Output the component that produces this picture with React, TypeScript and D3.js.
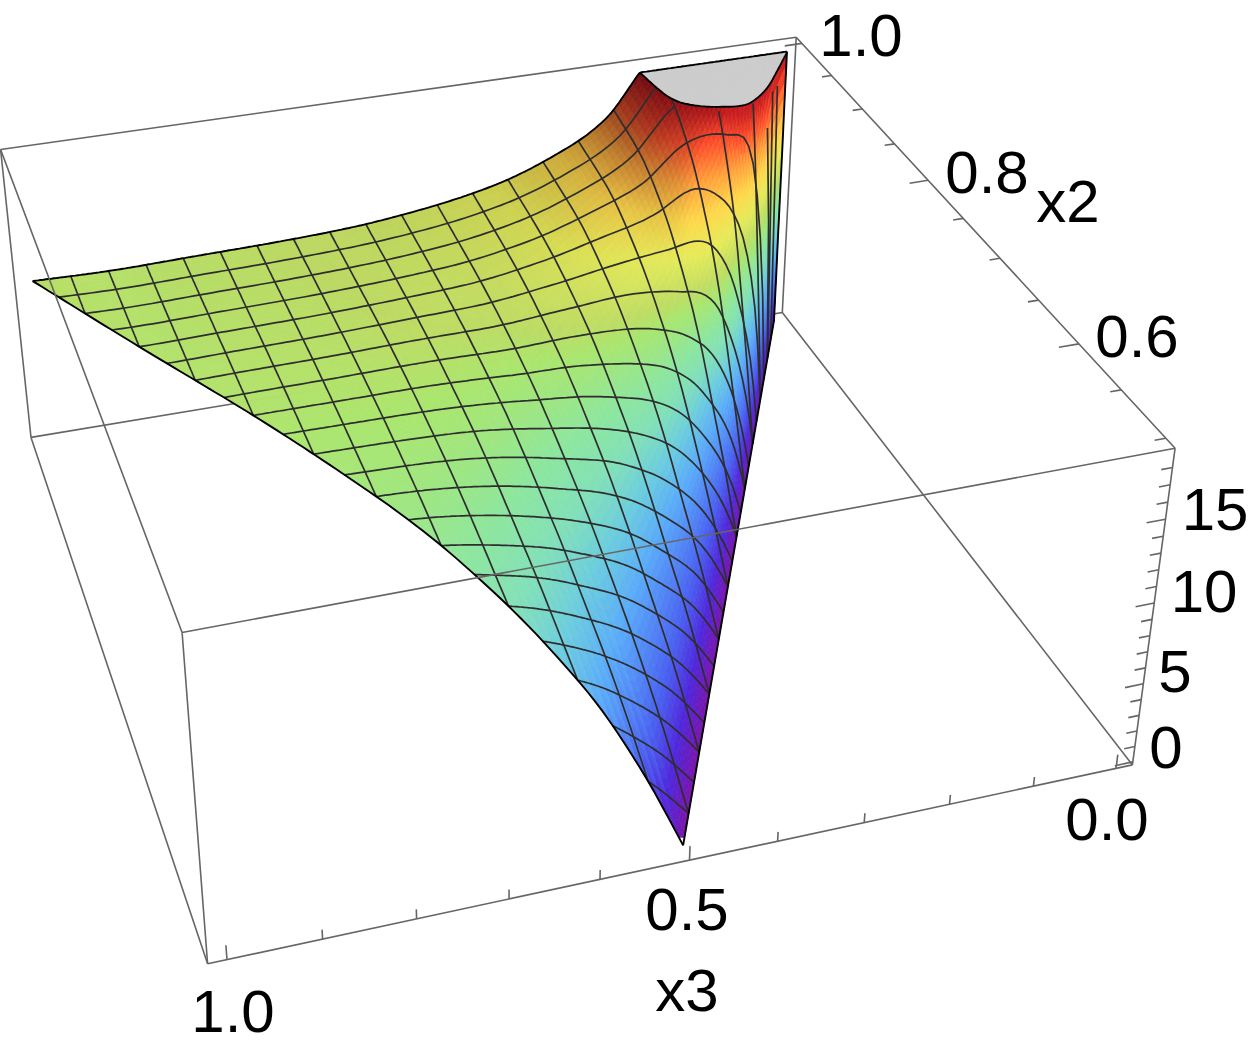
import React, { useMemo } from "react";
import * as d3 from "d3";

// ---------- data ----------
const x3Nodes = [0.02, 0.05, 0.09, 0.14, 0.2, 0.25, 0.3, 0.4, 0.5, 0.6, 0.7, 0.8, 0.9, 1];
// position between the x2+x3=1 edge (0) and the x2=1 edge (1), along a line of constant x3
const rNodes = [0, 0.1, 0.2, 0.3, 0.4, 0.6, 0.8, 1];
const zRows = [
  [0, 7.6, 14.4, 20.9, 25.8, 33, 36.9, 38],
  [0, 7.4, 14.1, 20.4, 25.2, 32.2, 35.9, 37],
  [0, 6.1, 11.6, 16.7, 20.7, 26.4, 29.5, 30.4],
  [0, 4.5, 8.5, 12.3, 15.2, 19.4, 21.6, 22.3],
  [0, 3.8, 7.2, 10.4, 12.9, 16.4, 18.3, 18.9],
  [0, 3.2, 6, 8.7, 10.8, 13.8, 15.4, 15.9],
  [0, 2.9, 5.5, 7.9, 9.8, 12.5, 14, 14.4],
  [0, 2.7, 4.8, 6.9, 8.6, 11, 12.2, 12.6],
  [0, 2.8, 5, 6.7, 8.2, 10.3, 11.3, 11.7],
  [0, 3, 5.4, 7, 8.3, 10.2, 11, 11.2],
  [0, 3, 5.3, 7.2, 8.5, 10.1, 10.8, 11],
  [0, 2.9, 5.2, 7.1, 8.4, 10, 10.7, 10.9],
  [0, 2.9, 5.2, 7, 8.3, 9.9, 10.6, 10.8],
  [0, 2.9, 5.2, 7.1, 8.4, 10, 10.7, 10.9],
];
const colorZ = [0, 1.5, 3, 5.3, 6.8, 8, 9, 10.5, 11, 12.5, 14, 15.5, 17, 18.7];
const colorHex = ["#7d14aa", "#5028dc", "#4a62f0", "#5aaafa", "#6ccdde", "#82e0b8", "#8ce6a0", "#aae66e", "#bedc64", "#e6eb5a", "#ffd74b", "#ffa03c", "#ff502d", "#be141e"];
const x3Ticks = [0, 0.1, 0.2, 0.3, 0.4, 0.5, 0.6, 0.7, 0.8, 0.9, 1];
const x3Major = [0, 0.5, 1];
const x2Ticks = [0.5, 0.55, 0.6, 0.65, 0.7, 0.75, 0.8, 0.85, 0.9, 0.95, 1];
const x2Major = [0.6, 0.8, 1];
const zTicks = d3.range(0, 19);
const zMajor = [0, 5, 10, 15];
const X3_MIN = -0.02, X3_MAX = 1.02, X2_MIN = 0.49, X2_MAX = 1.01, Z_MIN = -0.2, Z_MAX = 19.1, Z_CLIP = 18.7;
const MESH = 21;

// camera calibration: data coordinates -> picture
const calib: number[][] = [
  [X3_MAX, X2_MAX, Z_MIN, 32, 437], [X3_MAX, X2_MAX, Z_MAX, 0, 150],
  [X3_MIN, X2_MAX, Z_MIN, 782, 313], [X3_MIN, X2_MAX, Z_MAX, 797, 37],
  [X3_MIN, X2_MIN, Z_MIN, 1132, 765], [X3_MIN, X2_MIN, Z_MAX, 1175, 449],
  [X3_MAX, X2_MIN, Z_MIN, 206, 964], [X3_MAX, X2_MIN, Z_MAX, 183, 632],
  [1, X2_MIN, Z_MIN, 227, 960], [0.5, X2_MIN, Z_MIN, 690, 860], [0, X2_MIN, Z_MIN, 1117, 769],
  [X3_MIN, 0.8, Z_MAX, 930, 182], [X3_MIN, 1, Z_MAX, 800, 42],
  [X3_MIN, X2_MIN, 15, 1165, 519], [X3_MIN, X2_MIN, 10, 1154, 602], [X3_MIN, X2_MIN, 5, 1143, 683],
];

const sx = d3.scaleLinear().domain([X3_MIN, X3_MAX]).range([0, 1]);
const sy = d3.scaleLinear().domain([X2_MIN, X2_MAX]).range([0, 1]);
const sz = d3.scaleLinear().domain([Z_MIN, Z_MAX]).range([0, 1]);
const colorOf = d3.scaleLinear<string>().domain(colorZ).range(colorHex).interpolate(d3.interpolateRgb).clamp(true);

function solveHomography(): number[] {
  const n = 11;
  const A = d3.range(n).map(() => new Array(n + 1).fill(0));
  const add = (row: number[], b: number) => {
    for (let i = 0; i < n; i++) {
      for (let j = 0; j < n; j++) A[i][j] += row[i] * row[j];
      A[i][n] += row[i] * b;
    }
  };
  calib.forEach(([a, b, c, px, py]) => {
    const u = sx(a), v = sy(b), w = sz(c);
    add([1, u, v, w, 0, 0, 0, 0, -px * u, -px * v, -px * w], px);
    add([0, 0, 0, 0, 1, u, v, w, -py * u, -py * v, -py * w], py);
  });
  for (let i = 0; i < n; i++) {
    let p = i;
    for (let k = i + 1; k < n; k++) if (Math.abs(A[k][i]) > Math.abs(A[p][i])) p = k;
    [A[i], A[p]] = [A[p], A[i]];
    for (let k = 0; k < n; k++) {
      if (k === i) continue;
      const f = A[k][i] / A[i][i];
      for (let j = i; j <= n; j++) A[k][j] -= f * A[i][j];
    }
  }
  return A.map((r, i) => r[n] / r[i]);
}
const H = solveHomography();
function project(a: number, b: number, c: number): [number, number, number] {
  const u = sx(a), v = sy(b), w = sz(c);
  const W = 1 + H[8] * u + H[9] * v + H[10] * w;
  return [(H[0] + H[1] * u + H[2] * v + H[3] * w) / W, (H[4] + H[5] * u + H[6] * v + H[7] * w) / W, W];
}

function mono(xs: number[], ys: number[], x: number): number {
  const n = xs.length;
  if (x <= xs[0]) return ys[0];
  if (x >= xs[n - 1]) return ys[n - 1];
  let i = 0;
  while (x > xs[i + 1]) i++;
  const sec = (k: number) => (ys[k + 1] - ys[k]) / (xs[k + 1] - xs[k]);
  const tan = (k: number) => {
    if (k === 0) return sec(0);
    if (k === n - 1) return sec(n - 2);
    const a = sec(k - 1), b = sec(k);
    return a * b <= 0 ? 0 : (2 * a * b) / (a + b);
  };
  const h = xs[i + 1] - xs[i], t = (x - xs[i]) / h;
  const t2 = t * t, t3 = t2 * t;
  return (2 * t3 - 3 * t2 + 1) * ys[i] + (t3 - 2 * t2 + t) * h * tan(i) + (-2 * t3 + 3 * t2) * ys[i + 1] + (t3 - t2) * h * tan(i + 1);
}
const columns = rNodes.map((_, j) => zRows.map((row) => row[j]));
function zAt(x3: number, x2: number): number {
  const x = Math.max(x3, 1e-4);
  const r = Math.min(1, Math.max(0, (x2 + x - 1) / x));
  return mono(rNodes, columns.map((c) => mono(x3Nodes, c, x)), r);
}

type V = { a: number; b: number; z: number };
function clipPoly(p: V[]) {
  const below: V[] = [], above: V[] = [], cross: V[] = [];
  p.forEach((s, i) => {
    const e = p[(i + 1) % p.length];
    if (s.z <= Z_CLIP) below.push(s); else above.push({ ...s, z: Z_CLIP });
    if ((s.z <= Z_CLIP) !== (e.z <= Z_CLIP)) {
      const t = (Z_CLIP - s.z) / (e.z - s.z);
      const c = { a: s.a + (e.a - s.a) * t, b: s.b + (e.b - s.b) * t, z: Z_CLIP };
      below.push(c); above.push(c); cross.push(c);
    }
  });
  return { below, above, cross };
}
const line2 = d3.line<number[]>().x((d) => d[0]).y((d) => d[1]);
const f1 = (n: number) => Math.round(n * 10) / 10;

function buildSurface() {
  const NI = 140, NJ = 60;
  const grid: V[][] = [];
  for (let i = 0; i <= NI; i++) {
    const a = 0.002 + 0.998 * Math.pow(i / NI, 1.6);
    const rmin = Math.max(0, (2 * a - 1) / a);
    const row: V[] = [];
    for (let j = 0; j <= NJ; j++) {
      const r = rmin + (1 - rmin) * Math.pow(j / NJ, 1.5);
      const b = 1 - a + r * a;
      row.push({ a, b, z: zAt(a, b) });
    }
    grid.push(row);
  }
  const polys: { d: string; fill: string; depth: number }[] = [];
  const clipSeg: string[] = [];
  const pathOf = (p: V[]) => line2(p.map((v) => project(v.a, v.b, v.z).map(f1))) + "Z";
  for (let i = 0; i < NI; i++) {
    for (let j = 0; j < NJ; j++) {
      const q = [grid[i][j], grid[i + 1][j], grid[i + 1][j + 1], grid[i][j + 1]];
      const ca = d3.mean(q, (v) => v.a)!, cb = d3.mean(q, (v) => v.b)!;
      const depth = project(ca, cb, Math.min(Z_CLIP, d3.mean(q, (v) => v.z)!))[2];
      const { below, above, cross } = clipPoly(q);
      if (below.length > 2) {
        const cz = d3.mean(below, (v) => v.z)!;
        const de = 0.03;
        const slope = -(zAt(ca + de, cb) - zAt(ca - de, cb)) / (2 * de);
        const weight = Math.min(1, Math.max(0.15, (cb - 0.84) / 0.16));
        const shade = 1 / (1 + Math.max(0, slope) * 0.012 * weight);
        const c = d3.rgb(colorOf(cz));
        polys.push({ d: pathOf(below), fill: d3.rgb(c.r * shade, c.g * shade, c.b * shade).formatHex(), depth });
      }
      if (above.length > 2) polys.push({ d: pathOf(above), fill: "#cccccc", depth });
      if (cross.length === 2) clipSeg.push(line2(cross.map((v) => project(v.a, v.b, v.z).map(f1)))!);
    }
  }
  polys.sort((p, q) => q.depth - p.depth);

  const curve = (pts: number[][]) => {
    const segs: string[] = [];
    let cur: number[][] = [];
    pts.forEach(([a, b]) => {
      const z = zAt(a, b);
      if (z > Z_CLIP) {
        if (cur.length > 1) segs.push(line2(cur)!);
        cur = [];
      } else cur.push(project(a, b, z).slice(0, 2).map(f1));
    });
    if (cur.length > 1) segs.push(line2(cur)!);
    return segs.join("");
  };
  const clamped = (pts: number[][]) => line2(pts.map(([a, b]) => project(a, b, Math.min(Z_CLIP, zAt(a, b))).slice(0, 2).map(f1)))!;

  const mesh: string[] = [];
  d3.range(1, MESH).forEach((k) => {
    const a = k / MESH;
    const lo = Math.max(a, 1 - a);
    mesh.push(curve(d3.range(0, 71).map((t) => [a, lo + ((1 - lo) * t) / 70])));
    const b = 0.5 + k / (2 * MESH);
    mesh.push(curve(d3.range(0, 121).map((t) => [1 - b + ((b - (1 - b)) * t) / 120, b])));
  });
  const edges = [
    clamped(d3.range(0, 301).map((t) => [0.001 + (0.999 * t) / 300, 1])),
    clamped(d3.range(0, 101).map((t) => [0.5 + (0.5 * t) / 100, 0.5 + (0.5 * t) / 100])),
    clamped(d3.range(0, 2).map((t) => [0.5 - (0.499 * t), 0.5 + 0.499 * t])),
    clamped(d3.range(0, 41).map((t) => [0.0015, 0.9985 + (0.0015 * t) / 40])),
  ];
  return { polys, mesh, edges, clipSeg };
}

const GRID = "#666666";
const seg = (p: number[], q: number[]) => {
  const A = project(p[0], p[1], p[2]), B = project(q[0], q[1], q[2]);
  return `M${f1(A[0])},${f1(A[1])}L${f1(B[0])},${f1(B[1])}`;
};

const labels: [string, number, number][] = [
  ["1.0", 861, 56], ["0.8", 987, 193], ["x2", 1068, 222], ["0.6", 1137, 357],
  ["15", 1215, 530], ["10", 1204, 612], ["5", 1175, 692], ["0", 1166, 768],
  ["0.0", 1107, 840], ["0.5", 687, 930], ["x3", 687, 1011], ["1.0", 233, 1032],
];

export default function App() {
  const s = useMemo(buildSurface, []);
  const L = X3_MAX, R = X3_MIN, F = X2_MIN, K = X2_MAX, D = Z_MIN, T = Z_MAX;
  const backEdges = [
    seg([L, K, D], [R, K, D]), seg([R, K, D], [R, F, D]), seg([R, F, D], [L, F, D]), seg([L, F, D], [L, K, D]),
    seg([L, K, D], [L, K, T]), seg([R, K, D], [R, K, T]), seg([L, K, T], [R, K, T]),
  ].join("");
  const frontEdges = [
    seg([R, K, T], [R, F, T]), seg([R, F, T], [L, F, T]), seg([L, F, T], [L, K, T]),
    seg([R, F, D], [R, F, T]), seg([L, F, D], [L, F, T]),
  ].join("");
  const ticks = [
    ...x3Ticks.map((t) => seg([t, F, D], [t, F, D + (x3Major.includes(t) ? 0.9 : 0.6)])),
    ...x2Ticks.map((t) => seg([R, t, T], [R + (x2Major.includes(t) ? 0.024 : 0.013), t, T])),
    ...zTicks.map((t) => seg([R, F, t], [R + (zMajor.includes(t) ? 0.022 : 0.013), F, t])),
  ].join("");
  return (
    <svg width={1250} height={1047} style={{ position: "absolute", left: 0, top: 0, display: "block", background: "#fff" }}>
      <path d={backEdges} fill="none" stroke={GRID} strokeWidth={1.6} />
      <g strokeWidth={0.7} strokeLinejoin="round">
        {s.polys.map((p, i) => (
          <path key={i} d={p.d} fill={p.fill} stroke={p.fill} />
        ))}
      </g>
      <g fill="none" stroke="#2e2e2e" strokeWidth={1.7} strokeLinejoin="round">
        {s.mesh.map((d, i) => (
          <path key={i} d={d} />
        ))}
      </g>
      <g fill="none" stroke="#000" strokeWidth={1.9} strokeLinejoin="round">
        {s.edges.map((d, i) => (
          <path key={i} d={d} />
        ))}
        <path d={s.clipSeg.join("")} />
      </g>
      <path d={frontEdges} fill="none" stroke={GRID} strokeWidth={1.6} />
      <path d={ticks} fill="none" stroke={GRID} strokeWidth={1.6} />
      <g fontFamily="'Liberation Sans', Arial, sans-serif" fontSize={60} textAnchor="middle" fill="#000">
        {labels.map(([t, x, y], i) => (
          <text key={i} x={x} y={y}>
            {t}
          </text>
        ))}
      </g>
    </svg>
  );
}
